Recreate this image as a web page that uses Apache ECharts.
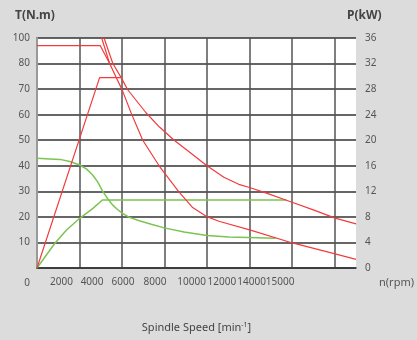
<!DOCTYPE html>
<html>
<head>
<meta charset="utf-8">
<style>
  html, body { margin: 0; padding: 0; background: #dcdcdc; }
  #chart { width: 417px; height: 340px; }
</style>
<script src="https://cdn.jsdelivr.net/npm/echarts@6/dist/echarts.min.js"></script>
</head>
<body>
<div id="chart"></div>
<script>
// Speed axis text, and the speed (rpm) along the axis where each label is printed
const speedTicks = ['2000', '4000', '6000', '8000', '10000', '12000', '14000', '15000'];
const speedTickAt = [1150, 2590, 4040, 5550, 7270, 8690, 10090, 11430];
// Torque axis labels, one per grid line from the bottom up
const torqueTicks = ['0', '10', '20', '30', '40', '50', '60', '70', '80', '100'];

// Red motor: torque (N.m) vs speed (rpm)
const redTorque = [[0, 87.0], [2977, 87.0], [3411, 80.1], [3724, 74.5], [4005, 69.7], [4425, 60.7],
  [4967, 50.1], [5748, 39.9], [6682, 29.7], [7300, 23.8], [7991, 20.1], [8552, 18.3], [10000, 14.9],
  [12010, 9.8], [14019, 5.5], [15000, 3.4]];
// upper branch of the red torque curve, running off the top of the chart
const redTorqueUpper = [[2925, 93.1], [3023, 90.5], [3411, 80.1]];
// Red motor: power (kW) vs speed (rpm)
const redPower = [[0, 0], [2944, 29.8], [3958, 29.8], [4266, 27.9], [5126, 24.3], [5748, 22.1], [6449, 20.0],
  [7150, 18.2], [7991, 16.0], [8786, 14.2], [9486, 13.1], [10000, 12.6], [10888, 11.6], [11730, 10.6],
  [12992, 9.1], [14019, 7.8], [15000, 6.9]];
const redPowerUpper = [[3061, 37.2], [3131, 36.2], [3566, 32.0], [3958, 29.8]];

// Green motor: torque (N.m) and power (kW)
const greenTorque = [[0, 42.9], [607, 42.7], [1075, 42.5], [1542, 41.7], [2009, 40.3], [2337, 38.7],
  [2617, 36.4], [2851, 33.7], [3084, 30.1], [3318, 27.2], [3551, 24.7], [3785, 22.9], [4019, 21.4],
  [4346, 19.8], [4813, 18.5], [5374, 17.1], [5981, 15.7], [6916, 14.1], [7991, 12.7], [9019, 12.1],
  [9954, 11.9], [11215, 11.6]];
const greenPower = [[0, 0], [374, 1.72], [841, 3.87], [1388, 5.95], [2009, 7.78], [2631, 9.34],
  [3070, 10.64], [11730, 10.64]];

const FONT = 'Noto Sans';
const RED = '#f23b3b';
const GREEN = '#7cc452';
const LABEL_SIZE = 10;

const chart = echarts.init(document.getElementById('chart'), null, { renderer: 'canvas' });

function line(data, color, width, yAxisIndex) {
  return {
    type: 'line', data: data, yAxisIndex: yAxisIndex, symbol: 'none',
    clip: true, lineStyle: { color: color, width: width }, z: 3
  };
}

chart.setOption({
  animation: false,
  backgroundColor: '#dcdcdc',
  textStyle: { fontFamily: FONT },
  grid: { left: 37, right: 59, top: 38, bottom: 72, show: true, backgroundColor: '#ffffff', borderWidth: 0 },
  graphic: [
    { type: 'text', left: 15, top: 10, style: { text: 'T(N.m)', font: 'bold 12px "Noto Sans"', fill: '#444' } },
    { type: 'text', left: 347, top: 10, style: { text: 'P(kW)', font: 'bold 12px "Noto Sans"', fill: '#444' } }
  ],
  xAxis: [{
    type: 'value', min: 0, max: 15000, interval: 2000,
    name: '{a|n(rpm)}', nameLocation: 'end', nameGap: 23,
    nameTextStyle: {
      rich: { a: { fontSize: 11, color: '#555', fontFamily: FONT, padding: [30, 0, 0, 0] } }
    },
    axisLine: { lineStyle: { color: '#333', width: 1.5 } },
    axisTick: { show: false },
    axisLabel: { show: false },
    splitLine: { show: true, showMaxLine: false, lineStyle: { color: '#555', width: 1.5 } }
  }, {
    type: 'value', min: 0, max: 15000, position: 'bottom',
    name: 'Spindle Speed [min{sup|-1}]', nameLocation: 'middle', nameGap: 53,
    nameTextStyle: {
      fontSize: 11, color: '#444', fontFamily: FONT,
      rich: { sup: { fontSize: 7, color: '#444', fontFamily: FONT, padding: [0, 0, 6, 0] } }
    },
    axisLine: { show: false }, axisTick: { show: false }, splitLine: { show: false },
    axisLabel: {
      customValues: speedTickAt, margin: 9, color: '#555',
      showMinLabel: true, showMaxLabel: true, hideOverlap: false,
      formatter: function (v) {
        const k = speedTickAt.indexOf(Math.round(v));
        return k >= 0 ? '{t|' + speedTicks[k] + '}' : '';
      },
      rich: { t: { fontSize: LABEL_SIZE, color: '#555', fontFamily: FONT, width: 24, align: 'center' } }
    }
  }],
  yAxis: [{
    type: 'value', min: 0, max: 90, interval: 10, position: 'left',
    axisLine: { show: true, lineStyle: { color: '#333', width: 1.5 } },
    axisTick: { show: false },
    axisLabel: {
      margin: 7, fontSize: LABEL_SIZE, color: '#555', fontFamily: FONT,
      formatter: function (v, i) { return i === 0 ? '{z|' + torqueTicks[i] + '}' : torqueTicks[i]; },
      rich: { z: { fontSize: LABEL_SIZE, color: '#555', fontFamily: FONT, padding: [30, 0, 0, 0] } }
    },
    splitLine: { show: true, lineStyle: { color: '#333', width: 1.5 } }
  }, {
    type: 'value', min: 0, max: 36, interval: 4, position: 'right',
    axisLine: { show: true, lineStyle: { color: '#999', width: 2 } },
    axisTick: { show: false },
    axisLabel: { margin: 9, fontSize: LABEL_SIZE, color: '#555', fontFamily: FONT },
    splitLine: { show: false }
  }],
  series: [
    line(greenTorque, GREEN, 1.5, 0),
    line(greenPower, GREEN, 1.5, 1),
    line(redTorqueUpper, RED, 1.2, 0),
    line(redTorque, RED, 1.2, 0),
    line(redPowerUpper, RED, 1.2, 1),
    line(redPower, RED, 1.2, 1)
  ]
});
</script>
</body>
</html>
